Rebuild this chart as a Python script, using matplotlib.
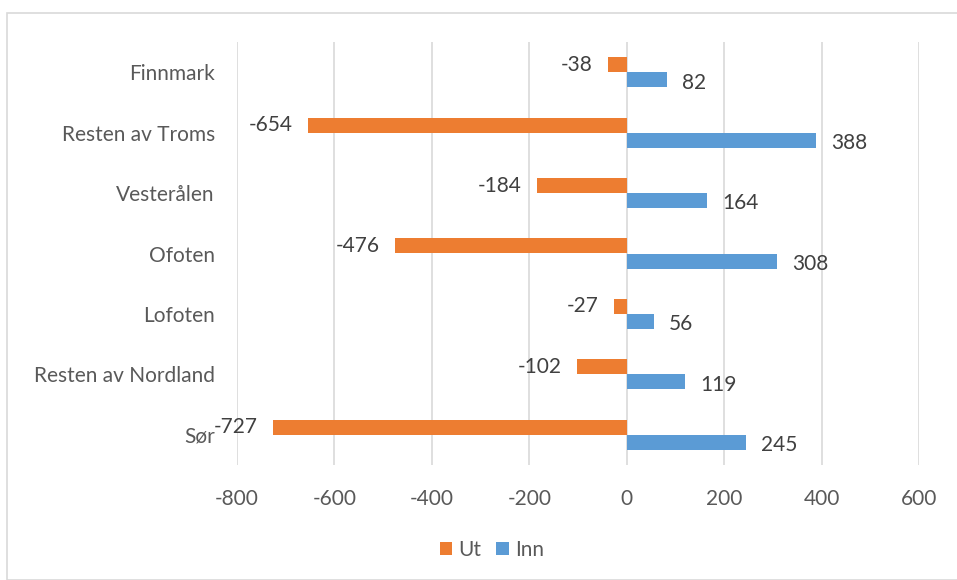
import numpy as np
import matplotlib
matplotlib.use('Agg')
from matplotlib import pyplot as plt
from matplotlib.patches import Rectangle

plt.rcParams['font.family'] = ['Lato', 'DejaVu Sans']

# data, top to bottom as in the chart
regions = ['Finnmark', 'Resten av Troms', 'Vesterålen', 'Ofoten', 'Lofoten',
           'Resten av Nordland', 'Sør']
ut = [-38, -654, -184, -476, -27, -102, -727]
inn = [82, 388, 164, 308, 56, 119, 245]
ticks = [-800, -600, -400, -200, 0, 200, 400, 600]

orange = '#ED7D31'
blue = '#5B9BD5'
txt = '#404040'
axtxt = '#595959'
fs = 15

fig = plt.figure(figsize=(9.57, 5.80), dpi=100)
# outer chart border
fig.patches.append(Rectangle((7/957, 0), 1.0, 1 - 13/580, transform=fig.transFigure,
                             fill=False, edgecolor='#d9d9d9', linewidth=1.2))

ax = fig.add_axes([237/957, 1 - 465/580, (919 - 237)/957, (465 - 42)/580])

y = np.arange(len(regions))
h = 0.25
b_ut = ax.barh(y - h/2, ut, height=h, color=orange, label='Ut', zorder=3)
b_inn = ax.barh(y + h/2, inn, height=h, color=blue, label='Inn', zorder=3)

for bars in (b_ut, b_inn):
    for r in bars:
        v = r.get_width()
        yc = r.get_y() + r.get_height()/2
        if v < 0:
            ax.annotate(str(int(v)), (v, yc), xytext=(-11, 0), textcoords='offset points',
                        ha='right', va='center', fontsize=fs, color=txt)
        else:
            ax.annotate(str(int(v)), (v, yc), xytext=(11, -2), textcoords='offset points',
                        ha='left', va='center', fontsize=fs, color=txt)

ax.set_xlim(-800, 600)
ax.set_ylim(len(regions) - 0.5, -0.5)
ax.set_xticks(ticks)
ax.set_xticklabels([str(t) for t in ticks], fontsize=fs, color=axtxt)
ax.set_yticks(y)
ax.set_yticklabels(regions, fontsize=fs, color=axtxt)
ax.tick_params(axis='both', length=0)
ax.tick_params(axis='x', pad=17)
ax.tick_params(axis='y', pad=16)
ax.grid(axis='x', color='#d9d9d9', linewidth=1.2, zorder=0)
for s in ax.spines.values():
    s.set_visible(False)

fig.legend(handles=[b_ut, b_inn], labels=['Ut', 'Inn'], loc='center',
           bbox_to_anchor=(492/957, 1 - 550/580), ncol=2, frameon=False,
           fontsize=fs, handlelength=0.6, handleheight=0.6, handletextpad=0.3,
           columnspacing=0.7, labelcolor=axtxt)

fig.savefig('out.png', dpi=100)
